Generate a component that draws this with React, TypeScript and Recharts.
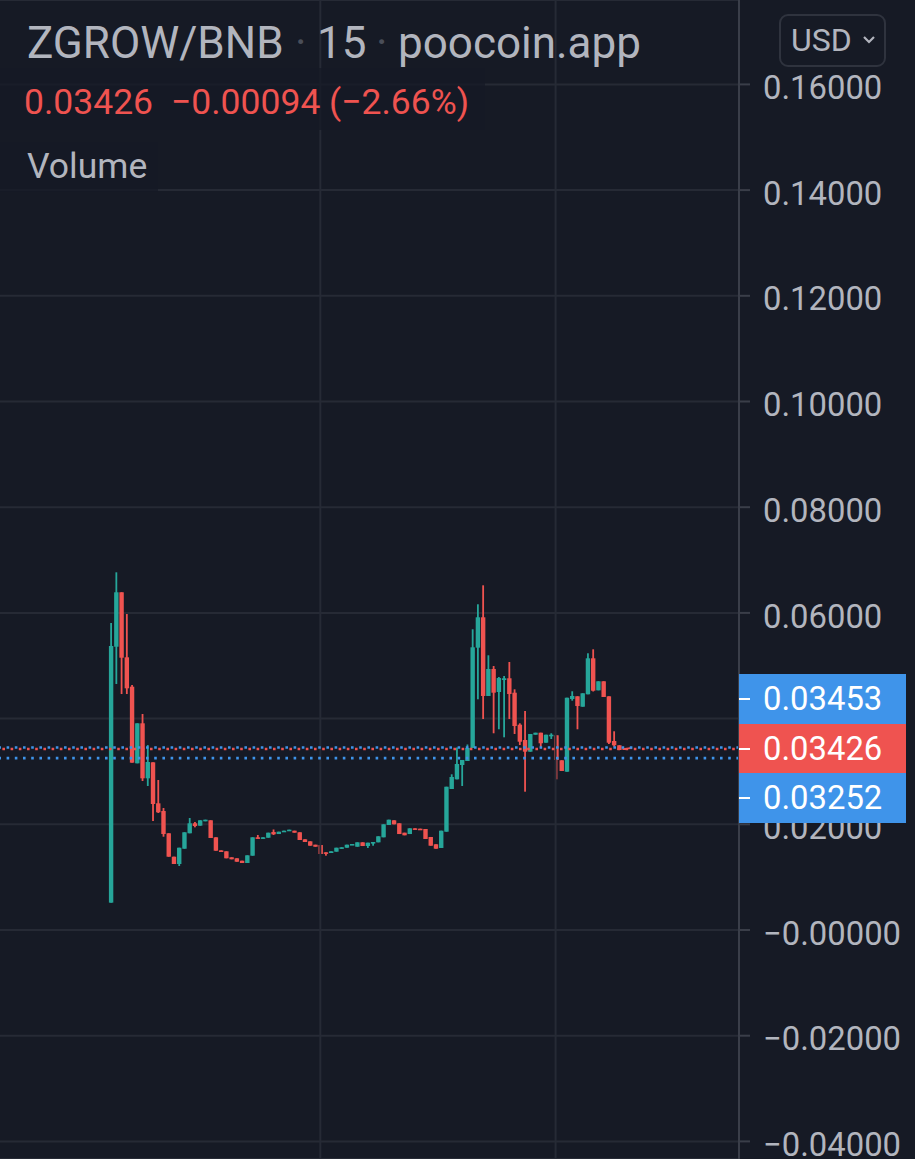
import React from "react";
import { ComposedChart, Bar, XAxis, YAxis, CartesianGrid, ReferenceLine } from "recharts";

const opens = [
  0.00517,0.0536,0.0639,0.0516,0.04604,0.03154,0.03911,0.0287,0.03173,0.02397,
  0.02252,0.0183,0.01387,0.01249,0.01538,0.0183,0.02019,0.01974,0.02057,0.02076,
  0.01754,0.01507,0.01489,0.01376,0.01357,0.01311,0.01268,0.01406,0.01754,0.01728,
  0.01746,0.01854,0.01816,0.0186,0.01879,0.01879,0.01849,0.01716,0.01678,0.01614,
  0.01608,0.0147,0.01457,0.01482,0.01538,0.01557,0.01608,0.01576,0.01659,0.01589,
  0.01646,0.01659,0.01754,0.01987,0.02076,0.02019,0.01841,0.01816,0.01924,0.01917,
  0.01911,0.0176,0.01622,0.01552,0.0186,0.02668,0.02851,0.03122,0.03198,0.03444,
  0.05342,0.05917,0.04428,0.04939,0.04503,0.0473,0.04763,0.0449,0.03885,0.03595,
  0.03374,0.03695,0.03733,0.03544,0.03671,0.03684,0.03211,0.02995,0.04371,0.04422,
  0.04225,0.0446,0.05141,0.04535,0.04706,0.04422,0.03576,0.03495,0.03444,0.03453,
];
const closes = [
  0.05374,0.0639,0.05152,0.04573,0.03166,0.03911,0.0287,0.03179,0.02384,0.02227,
  0.01816,0.01387,0.01249,0.01557,0.01849,0.02019,0.01968,0.02076,0.02087,0.01741,
  0.015,0.01476,0.01357,0.01338,0.01292,0.01268,0.01413,0.01754,0.01728,0.01754,
  0.01841,0.01811,0.0186,0.01879,0.01898,0.01841,0.01703,0.01665,0.01595,0.01576,
  0.01438,0.01444,0.01489,0.01557,0.01565,0.01614,0.01627,0.01659,0.01589,0.01652,
  0.01665,0.01773,0.02,0.02087,0.02,0.01816,0.01792,0.01924,0.01898,0.01892,
  0.01722,0.01595,0.01538,0.01879,0.02711,0.02895,0.03141,0.03217,0.03444,0.05349,
  0.05917,0.04428,0.04939,0.0449,0.04768,0.04763,0.04465,0.0386,0.03563,0.03374,
  0.03709,0.03733,0.03533,0.03695,0.03695,0.03217,0.03009,0.04395,0.04428,0.04238,
  0.04479,0.05141,0.04528,0.04706,0.04409,0.03544,0.03495,0.03406,0.03406,0.03426,
];
const highs = [
  0.05809,0.06768,0.0639,0.05979,0.04636,0.03911,0.04087,0.035,0.03173,0.02838,
  0.02308,0.0183,0.01387,0.01557,0.01849,0.02119,0.02044,0.02076,0.02087,0.02076,
  0.01754,0.01507,0.01489,0.01376,0.01357,0.01311,0.01413,0.01754,0.01798,0.01754,
  0.01841,0.01902,0.0186,0.01879,0.01898,0.01879,0.01849,0.01716,0.01678,0.01614,
  0.01608,0.0147,0.01489,0.01557,0.01565,0.01614,0.01627,0.01659,0.01659,0.01652,
  0.01665,0.01773,0.02,0.02087,0.02076,0.02019,0.01841,0.01924,0.01924,0.01917,
  0.01911,0.0176,0.01622,0.01879,0.02711,0.02946,0.03453,0.03217,0.0351,0.0569,
  0.06163,0.06522,0.05198,0.04995,0.04787,0.04806,0.05071,0.04554,0.03911,0.04144,
  0.03709,0.03733,0.03733,0.03695,0.03722,0.03684,0.03211,0.04395,0.04517,0.04422,
  0.04479,0.05236,0.05311,0.04706,0.04706,0.04422,0.0376,0.03495,0.03444,0.03453,
];
const lows = [
  0.00517,0.04655,0.04465,0.04465,0.03166,0.03154,0.02819,0.02725,0.02062,0.02214,
  0.01765,0.01387,0.01249,0.01211,0.01538,0.0183,0.01943,0.01974,0.02057,0.01741,
  0.015,0.01476,0.01357,0.01338,0.01292,0.01268,0.01268,0.01406,0.01728,0.01728,
  0.01746,0.01798,0.01816,0.0186,0.01879,0.01841,0.01703,0.01665,0.01595,0.01576,
  0.01438,0.01406,0.01457,0.01482,0.01538,0.01557,0.01608,0.01576,0.01589,0.01552,
  0.01595,0.01659,0.01754,0.01987,0.02,0.01816,0.01792,0.01816,0.01898,0.01892,
  0.01722,0.01595,0.01538,0.01552,0.0186,0.02668,0.02851,0.02725,0.03198,0.03444,
  0.04365,0.03992,0.04428,0.03722,0.03798,0.03646,0.03992,0.03709,0.035,0.02617,
  0.03374,0.03695,0.03438,0.03544,0.03614,0.02851,0.03009,0.02995,0.04339,0.03798,
  0.04225,0.0446,0.04513,0.04535,0.04409,0.03519,0.03468,0.03406,0.03406,0.03426,
];
const priceTicks = [0.16, 0.14, 0.12, 0.1, 0.08, 0.06, 0.04, 0.02, 0, -0.02, -0.04];
const tickLabels = ["0.16000","0.14000","0.12000","0.10000","0.08000","0.06000","0.04000","0.02000","−0.00000","−0.02000","−0.04000"];
const timeGridAt = [40, 84.9];
const priceLines = [
  { value: 0.03453, color: "#3f94ea", phase: 0 },
  { value: 0.03252, color: "#3f94ea", phase: 0 },
  { value: 0.03426, color: "#ef5350", phase: 4 },
];

const UP = "#26a69a";
const DOWN = "#ef5350";
const BG = "#161a25";
const GRID = "#262a35";
const TEXT = "#b2b5be";
const FONT = "Roboto, sans-serif";

const rows = opens.map((open, i) => ({
  i,
  open,
  close: closes[i],
  high: highs[i],
  low: lows[i],
  range: [lows[i], highs[i]],
}));

function Candle(props: any) {
  const { x, y, width, height, payload } = props;
  const { open, close, high, low } = payload;
  const perUnit = height / (high - low);
  const at = (v: number) => y + (high - v) * perUnit;
  const top = at(Math.max(open, close));
  const bottom = at(Math.min(open, close));
  const color = close >= open ? UP : DOWN;
  const cx = x + width / 2;
  return (
    <g>
      <rect x={cx - 0.9} y={y} width={1.8} height={Math.max(height, 1)} fill={color} />
      <rect x={cx - 2.2} y={top} width={4.4} height={Math.max(bottom - top, 1.6)} fill={color} />
    </g>
  );
}

function PriceTick(props: any) {
  const { x, y, payload } = props;
  const idx = priceTicks.indexOf(payload.value);
  return (
    <text x={x} y={y + 3} dy="0.355em" fill={TEXT} fontFamily={FONT} fontSize={32.8}>
      {tickLabels[idx]}
    </text>
  );
}

const abs = (left: number, top: number, extra: React.CSSProperties = {}): React.CSSProperties => ({
  position: "absolute",
  left,
  top,
  whiteSpace: "nowrap",
  fontFamily: FONT,
  lineHeight: 1,
  ...extra,
});

const priceBoxes = [
  { label: "0.03453", top: 674, color: "#3f94ea" },
  { label: "0.03426", top: 724, color: "#ef5350" },
  { label: "0.03252", top: 773, color: "#3f94ea" },
];

export default function App() {
  return (
    <div style={{ position: "absolute", left: 0, top: 0, width: 915, height: 1159, overflow: "hidden", background: BG }}>
      <ComposedChart width={915} height={1159} data={rows} margin={{ top: 0, right: 0, bottom: 0, left: 0 }}>
        <CartesianGrid stroke={GRID} strokeWidth={2} vertical={false} />
        <XAxis dataKey="i" type="number" domain={[-21.13, 119.9]} hide allowDataOverflow />
        <YAxis
          orientation="right"
          width={176}
          domain={[-0.04333, 0.17597]}
          ticks={priceTicks}
          interval={0}
          allowDataOverflow
          axisLine={{ stroke: "#3a3e49", strokeWidth: 2 }}
          tickLine={{ stroke: "#3a3e49", strokeWidth: 2 }}
          tickSize={11}
          tickMargin={13}
          tick={<PriceTick />}
        />
        {timeGridAt.map((t) => (
          <ReferenceLine key={t} x={t} stroke={GRID} strokeWidth={2} />
        ))}
        {priceLines.map((p) => (
          <ReferenceLine
            key={p.value}
            y={p.value}
            stroke={p.color}
            strokeWidth={2.6}
            strokeDasharray="2.6 5.6"
            strokeDashoffset={p.phase}
          />
        ))}
        <Bar dataKey="range" barSize={4} isAnimationActive={false} shape={<Candle />} />
      </ComposedChart>

      <div style={abs(0, 68, { width: 485, height: 62, background: "rgba(22,26,37,0.75)" })} />
      <div style={abs(0, 142, { width: 158, height: 50, background: "rgba(22,26,37,0.75)" })} />

      <div style={abs(27, 21, { fontSize: 44, color: TEXT })}>ZGROW/BNB</div>
      <div style={abs(295, 21, { fontSize: 44, color: "#4a4e59" })}>·</div>
      <div style={abs(317, 21, { fontSize: 44, color: TEXT })}>15</div>
      <div style={abs(376, 21, { fontSize: 44, color: "#4a4e59" })}>·</div>
      <div style={abs(398, 21, { fontSize: 44, color: TEXT })}>poocoin.app</div>

      <div style={abs(24, 85, { fontSize: 35.5, color: DOWN })}>0.03426</div>
      <div style={abs(171, 85, { fontSize: 35.5, color: DOWN })}>−0.00094</div>
      <div style={abs(329, 85, { fontSize: 35.5, color: DOWN })}>(−2.66%)</div>
      <div style={abs(27, 149, { fontSize: 35.5, color: TEXT })}>Volume</div>

      <div style={abs(779, 14, { width: 107, height: 53, boxSizing: "border-box", border: "2px solid #2f333e", borderRadius: 9, background: BG })} />
      <div style={abs(791, 24, { fontSize: 32, color: TEXT })}>USD</div>
      <svg style={{ position: "absolute", left: 860, top: 34 }} width={18} height={12}>
        <path d="M4 3 L9 8 L14 3" fill="none" stroke={TEXT} strokeWidth={2.2} />
      </svg>

      {priceBoxes.map((b) => (
        <div key={b.label} style={abs(739, b.top, { width: 167, height: 50, background: b.color })}>
          <div style={abs(0, 24, { width: 11, height: 2, background: "#fff" })} />
          <div style={abs(24, 9, { fontSize: 32.8, color: "#fff" })}>{b.label}</div>
        </div>
      ))}
    </div>
  );
}
